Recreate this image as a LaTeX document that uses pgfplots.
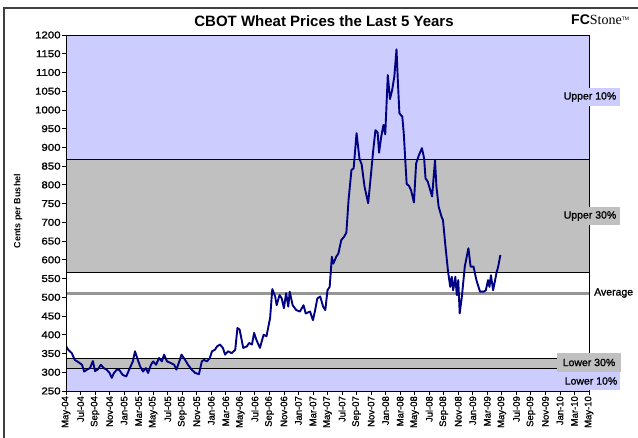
\documentclass[border=0pt]{standalone}
\usepackage{pgfplots}
\pgfplotsset{compat=1.18}
\usepackage{fontspec}
\setmainfont{Liberation Sans}
\newfontfamily\logoserif{Liberation Serif}
\newfontfamily\semib[FakeBold=1.2]{Liberation Sans}
\definecolor{lav}{RGB}{204,204,255}
\definecolor{gry}{RGB}{192,192,192}
\definecolor{navyl}{RGB}{0,0,130}
\definecolor{avg}{RGB}{150,150,150}
\begin{document}
\begin{tikzpicture}[x=1pt,y=1pt]
\useasboundingbox (0,0) rectangle (638,438);
\draw[line width=1.2pt, black!75] (4,0) -- (4,430) -- (638,430);
\begin{axis}[at={(66pt,47pt)}, anchor=south west, scale only axis,
  width=523pt, height=356pt,
  xmin=0, xmax=72, ymin=250, ymax=1200,
  xtick={0,2,...,72},
  xticklabels={May-04,Jul-04,Sep-04,Nov-04,Jan-05,Mar-05,May-05,Jul-05,Sep-05,Nov-05,Jan-06,Mar-06,May-06,Jul-06,Sep-06,Nov-06,Jan-07,Mar-07,May-07,Jul-07,Sep-07,Nov-07,Jan-08,Mar-08,May-08,Jul-08,Sep-08,Nov-08,Jan-09,Mar-09,May-09,Jul-09,Sep-09,Nov-09,Jan-10,Mar-10,May-10},
  ytick={250,300,...,1200},
  tick align=outside, xtick pos=bottom, ytick pos=left,
  major tick length=4pt,
  tick style={black, line width=0.8pt},
  axis line style={black, line width=0.9pt},
  axis on top,
  /pgf/number format/assume math mode=true,
  /pgf/number format/1000 sep={},
  yticklabel style={font=\semib\fontsize{10}{10}\selectfont, xscale=1.15, inner sep=1pt},
  xticklabel style={font=\semib\fontsize{9.5}{10}\selectfont, rotate=90, anchor=east, inner sep=1pt},
]
\addplot[fill=lav, draw=none] coordinates {(0,869) (72,869) (72,1200) (0,1200)} -- cycle;
\addplot[fill=gry, draw=none] coordinates {(0,567) (72,567) (72,869) (0,869)} -- cycle;
\addplot[fill=gry, draw=none] coordinates {(0,309) (72,309) (72,338) (0,338)} -- cycle;
\addplot[fill=lav, draw=none] coordinates {(0,250) (72,250) (72,309) (0,309)} -- cycle;
\addplot[black, line width=0.8pt] coordinates {(0,869) (72,869)};
\addplot[black, line width=0.8pt] coordinates {(0,567) (72,567)};
\addplot[black, line width=0.8pt] coordinates {(0,338) (72,338)};
\addplot[black, line width=0.8pt] coordinates {(0,309) (72,309)};
\addplot[avg, line width=2.8pt] coordinates {(0,511) (72,511)};
\addplot[navyl, line width=1.9pt, line join=round] table {
m v
0 370
0.3 360
0.8 351
1.2 333
1.7 327
2.2 320
2.5 302
2.9 307
3.3 311
3.7 330
4.0 303
4.4 308
4.8 320
5.2 311
5.6 307
6.0 298
6.3 285
6.6 298
7.0 307
7.3 307
7.8 293
8.3 289
8.7 307
9.2 329
9.5 356
9.8 338
10.2 316
10.6 302
11.0 311
11.3 298
11.7 320
12.0 329
12.4 320
12.8 338
13.2 329
13.5 347
13.9 329
14.4 325
14.9 320
15.2 307
15.6 329
15.9 347
16.4 333
16.8 320
17.3 307
17.8 298
18.3 295
18.7 329
19.0 333
19.4 329
19.8 338
20.1 356
20.5 360
20.8 369
21.2 374
21.6 365
21.9 347
22.3 356
22.8 351
23.3 360
23.6 418
23.9 414
24.4 365
24.9 369
25.2 378
25.6 374
25.9 405
26.2 387
26.7 365
27.2 400
27.6 396
28.1 445
28.4 522
28.8 502
29.0 479
29.4 506
29.7 497
30.0 471
30.3 511
30.6 475
30.8 515
31.2 479
31.7 466
32.2 462
32.7 479
33.0 457
33.6 462
34.0 439
34.3 466
34.6 497
35.0 502
35.4 475
35.7 466
36.0 519
36.3 528
36.6 608
36.8 590
37.2 608
37.5 617
37.9 653
38.3 662
38.6 673
38.9 760
39.3 840
39.6 844
40.0 938
40.4 870
40.7 855
41.1 795
41.6 751
42.0 831
42.3 893
42.6 946
42.9 940
43.1 886
43.4 929
43.7 960
43.95 935
44.3 1093
44.6 1029
44.9 1053
45.2 1089
45.5 1162
45.7 1071
45.9 991
46.3 982
46.5 937
46.9 802
47.2 798
47.5 786
47.9 753
48.2 857
48.6 880
49.0 898
49.3 871
49.5 817
49.8 809
50.4 769
50.8 866
51.0 795
51.3 742
51.7 715
51.9 706
52.2 644
52.6 568
52.9 528
53.1 555
53.3 519
53.6 555
53.8 506
54.0 546
54.2 457
54.5 502
54.9 582
55.4 631
55.7 582
56.1 582
56.5 546
57.0 515
57.5 515
57.8 519
58.1 546
58.3 528
58.5 559
58.8 519
59.3 568
59.5 582
59.8 613
};
\end{axis}
\node[font=\fontsize{15}{15}\selectfont\bfseries] at (324,417) {CBOT Wheat Prices the Last 5 Years};
\node[anchor=west, inner sep=0pt] at (571,418) {{\fontsize{14}{14}\selectfont\bfseries FC}{\logoserif\fontsize{14}{14}\selectfont Stone}{\fontsize{5}{5}\selectfont\raisebox{4pt}{TM}}};
\node[rotate=90, font=\fontsize{9}{9}\selectfont\bfseries] at (18,227) {Cents per Bushel};
\node[fill=lav, minimum width=60pt, minimum height=18pt, inner sep=0pt, font=\semib\fontsize{10.5}{11}\selectfont] at (590,341) {Upper 10\%};
\node[fill=gry, minimum width=60pt, minimum height=18pt, inner sep=0pt, font=\semib\fontsize{10.5}{11}\selectfont] at (590,222) {Upper 30\%};
\node[anchor=west, inner sep=0pt, font=\semib\fontsize{10.5}{11}\selectfont] at (594,145) {Average};
\node[fill=gry, minimum width=64pt, minimum height=19pt, inner sep=0pt, font=\semib\fontsize{10.5}{11}\selectfont] at (589,75.5) {Lower 30\%};
\node[fill=lav, minimum width=57pt, minimum height=18pt, inner sep=0pt, font=\semib\fontsize{10.5}{11}\selectfont] at (591,57) {Lower 10\%};
\end{tikzpicture}
\end{document}
